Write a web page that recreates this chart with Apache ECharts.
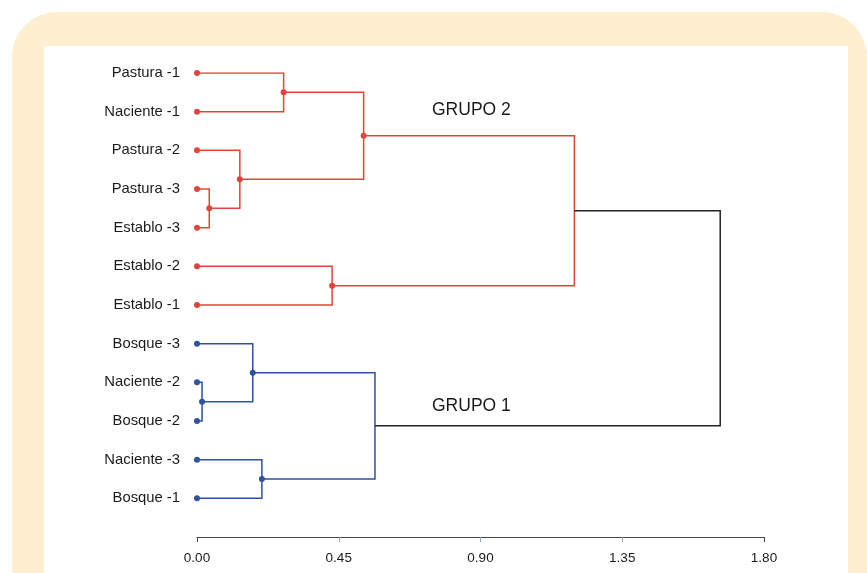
<!DOCTYPE html>
<html>
<head>
<meta charset="utf-8">
<script src="https://cdn.jsdelivr.net/npm/echarts@6/dist/echarts.min.js"></script>
<style>
  html, body { margin: 0; padding: 0; background: #fff; }
  #chart { width: 867px; height: 573px; }
</style>
</head>
<body>
<div id="chart"></div>
<script>
// leaves, top to bottom
const leaves = ['Pastura -1', 'Naciente -1', 'Pastura -2', 'Pastura -3', 'Establo -3', 'Establo -2',
  'Establo -1', 'Bosque -3', 'Naciente -2', 'Bosque -2', 'Naciente -3', 'Bosque -1'];
// merges: leaf index >= 0, earlier merge k as -(k+1)
const merges = [[0, 1], [3, 4], [2, -2], [-1, -3], [5, 6], [-4, -5],
  [8, 9], [7, -7], [10, 11], [-8, -9], [-6, -10]];
const heights = [0.275, 0.039, 0.136, 0.529, 0.429, 1.198, 0.016, 0.177, 0.206, 0.565, 1.661];
const mergeGroup = [2, 2, 2, 2, 2, 2, 1, 1, 1, 1, 0];
const mergeDot = [true, true, true, true, true, false, true, true, true, false, false];
const leafGroup = [2, 2, 2, 2, 2, 2, 2, 1, 1, 1, 1, 1];
const xTicks = [0, 0.45, 0.9, 1.35, 1.8];

const groupColor = { 0: '#222222', 1: '#2d52a0', 2: '#e8403a' };

// node positions
const nodePos = [];
function pos(n) {
  return n >= 0 ? [0, n] : nodePos[-n - 1];
}
const segs = [];
const dots = [];
leaves.forEach(function (name, i) {
  dots.push({ value: [0, i], itemStyle: { color: groupColor[leafGroup[i]] } });
});
merges.forEach(function (m, k) {
  const a = pos(m[0]), b = pos(m[1]), h = heights[k];
  const y = (a[1] + b[1]) / 2;
  nodePos.push([h, y]);
  segs.push({
    coords: [a, [h, a[1]], [h, b[1]], b],
    lineStyle: { color: groupColor[mergeGroup[k]] }
  });
  if (mergeDot[k]) {
    dots.push({ value: [h, y], itemStyle: { color: groupColor[mergeGroup[k]] } });
  }
});

const font = '"Liberation Sans", Arial, sans-serif';
const chart = echarts.init(document.getElementById('chart'));
chart.setOption({
  backgroundColor: '#ffffff',
  animation: false,
  textStyle: { fontFamily: font },
  graphic: [
    { type: 'rect', z: -10, shape: { x: 12, y: 12, width: 855, height: 600, r: [45, 45, 0, 0] },
      style: { fill: '#fdefd0' } },
    { type: 'rect', z: -9, shape: { x: 44, y: 46, width: 804, height: 600 },
      style: { fill: '#ffffff' } },
    { type: 'text', left: 432, top: 101, style: { text: 'GRUPO 2', fontSize: 17.5, fill: '#1a1a1a', fontFamily: font } },
    { type: 'text', left: 432, top: 397, style: { text: 'GRUPO 1', fontSize: 17.5, fill: '#1a1a1a', fontFamily: font } }
  ],
  grid: { left: 197, right: 103, top: 73, bottom: 36 },
  xAxis: [{
    type: 'value', min: 0, max: 1.8, interval: 0.45, position: 'bottom',
    axisLine: { show: true, onZero: false, lineStyle: { color: '#444444', width: 1, opacity: 1 } },
    axisTick: { show: true, length: 5, inside: false, lineStyle: { color: '#8fa3cc' } },
    axisLabel: { margin: 14, fontSize: 13.5, color: '#1a1a1a', formatter: function (v) {
      return xTicks.indexOf(v) >= 0 ? v.toFixed(2) : ''; } },
    splitLine: { show: false }
  }, {
    type: 'value', min: 0, max: 1.8, interval: 1.8, position: 'bottom',
    axisLine: { show: false, onZero: false },
    axisTick: { show: true, length: 5, lineStyle: { color: '#444444' } },
    axisLabel: { show: false },
    splitLine: { show: false }
  }],
  yAxis: {
    type: 'value', min: 0, max: 12, interval: 1, inverse: true,
    axisLine: { show: false }, axisTick: { show: false }, splitLine: { show: false },
    axisLabel: { margin: 17, fontSize: 14.8, color: '#1a1a1a',
      formatter: function (v) { return leaves[v] || ''; } }
  },
  series: [{
    type: 'lines', coordinateSystem: 'cartesian2d', polyline: true,
    lineStyle: { width: 1.5, opacity: 1 },
    data: segs, z: 2
  }, {
    type: 'scatter', symbol: 'circle', symbolSize: 6,
    itemStyle: { opacity: 1 },
    data: dots, z: 3
  }]
});
</script>
</body>
</html>
